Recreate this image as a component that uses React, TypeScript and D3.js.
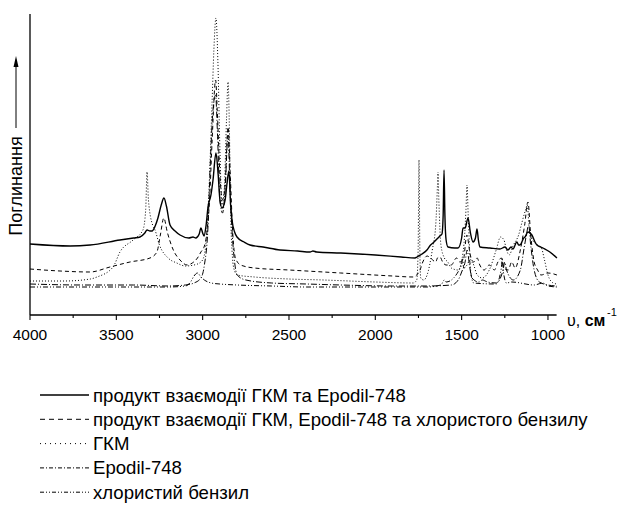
import React from 'react';
import * as d3 from 'd3';

// ---- data (wavenumber, absorbance in arbitrary units) ----
const majorTicks = [4000, 3500, 3000, 2500, 2000, 1500, 1000];
const minorTicks = [3750, 3250, 2750, 2250, 1750, 1250];

const legendLabels = [
  'продукт взаємодії ГКМ та Epodil-748',
  'продукт взаємодії ГКМ, Epodil-748 та хлористого бензилу',
  'ГКМ',
  'Epodil-748',
  'хлористий бензил',
];

const productGkmEpodil: [number, number][] = [
  [4000, 71], [3768, 69], [3652, 70], [3479, 75], [3400, 77], [3363, 78], [3335, 82], [3322, 85], [3305, 84], [3293, 84],
  [3275, 89], [3259, 97], [3240, 110], [3224, 117], [3210, 109], [3189, 90], [3160, 84], [3131, 80], [3080, 77], [3056, 78],
  [3040, 77], [3020, 81], [3010, 87], [3000, 82], [2992, 79], [2980, 90], [2969, 108], [2952, 120], [2940, 135], [2923, 162],
  [2910, 140], [2900, 115], [2888, 107], [2870, 115], [2860, 130], [2848, 144], [2838, 110], [2830, 95], [2815, 83], [2801, 78],
  [2760, 73], [2726, 70], [2650, 68], [2552, 65], [2450, 64], [2378, 63], [2361, 64], [2340, 63], [2200, 62], [2000, 60],
  [1850, 58], [1770, 57], [1759, 58], [1730, 61], [1701, 65], [1680, 70], [1666, 72], [1637, 77], [1626, 79], [1614, 81],
  [1607, 100], [1602, 145], [1597, 100], [1590, 75], [1579, 68], [1540, 67], [1521, 67], [1500, 77], [1492, 87], [1480, 87],
  [1463, 97], [1450, 83], [1434, 73], [1420, 77], [1411, 86], [1403, 75], [1394, 68], [1336, 67], [1278, 66], [1249, 68],
  [1232, 65], [1214, 68], [1203, 66], [1180, 73], [1170, 70], [1162, 70], [1140, 77], [1133, 78], [1116, 83], [1093, 80],
  [1075, 73], [1064, 70], [1029, 67], [989, 63], [948, 57],
];

const productGkmEpodilBenzyl: [number, number][] = [
  [4000, 46], [3826, 44], [3652, 43], [3537, 48], [3421, 53], [3305, 57], [3265, 63], [3245, 80], [3225, 97], [3205, 83],
  [3170, 65], [3131, 55], [3090, 50], [3060, 52], [3030, 57], [3010, 63], [2990, 69], [2975, 83], [2960, 115], [2945, 175],
  [2925, 235], [2915, 203], [2900, 140], [2885, 115], [2870, 130], [2853, 188], [2840, 140], [2825, 80], [2810, 57], [2780, 50],
  [2700, 47], [2500, 45], [2200, 42], [1900, 39], [1780, 38], [1760, 40], [1741, 45], [1725, 53], [1700, 59], [1680, 57],
  [1650, 53], [1640, 57], [1625, 58], [1610, 53], [1590, 50], [1560, 50], [1530, 57], [1510, 53], [1490, 55], [1470, 80],
  [1450, 60], [1430, 53], [1410, 57], [1395, 50], [1370, 45], [1340, 50], [1310, 45], [1290, 53], [1270, 57], [1255, 47],
  [1230, 45], [1210, 53], [1190, 47], [1160, 65], [1135, 90], [1116, 113], [1100, 80], [1080, 53], [1060, 45], [1040, 40],
  [1000, 42], [948, 40],
];

const gkm: [number, number][] = [
  [4000, 34], [3800, 34], [3650, 36], [3612, 38], [3519, 48], [3479, 63], [3403, 75], [3346, 85], [3330, 105], [3322, 143],
  [3314, 115], [3290, 90], [3276, 85], [3250, 70], [3200, 57], [3150, 52], [3100, 49], [3050, 50], [3010, 53], [2990, 60],
  [2975, 85], [2960, 140], [2945, 215], [2935, 265], [2923, 297], [2912, 255], [2900, 165], [2888, 110], [2875, 125], [2862, 195],
  [2853, 233], [2845, 185], [2838, 102], [2830, 65], [2820, 47], [2800, 40], [2700, 38], [2500, 36], [2300, 35], [2000, 33],
  [1780, 32], [1760, 35], [1752, 65], [1747, 155], [1742, 65], [1737, 37], [1720, 35], [1700, 40], [1670, 65], [1650, 90],
  [1640, 130], [1637, 143], [1632, 115], [1620, 70], [1600, 57], [1580, 53], [1560, 47], [1520, 45], [1490, 65], [1475, 105],
  [1469, 130], [1462, 100], [1450, 57], [1430, 50], [1410, 40], [1380, 37], [1340, 45], [1300, 65], [1275, 78], [1255, 75],
  [1240, 65], [1225, 60], [1200, 70], [1170, 80], [1150, 93], [1130, 105], [1120, 110], [1110, 90], [1090, 75], [1060, 70],
  [1040, 68], [1020, 55], [1000, 40], [970, 32], [948, 31],
];

const epodil: [number, number][] = [
  [4000, 31], [3700, 30], [3400, 30], [3200, 29], [3100, 30], [3050, 32], [3010, 37], [2990, 50], [2970, 85], [2955, 155],
  [2940, 205], [2925, 220], [2915, 185], [2900, 115], [2885, 102], [2870, 125], [2853, 180], [2843, 135], [2830, 85], [2815, 53],
  [2800, 40], [2750, 35], [2600, 32], [2400, 31], [2200, 30], [1900, 29], [1700, 29], [1560, 30], [1520, 35], [1500, 43],
  [1480, 53], [1468, 65], [1455, 50], [1440, 37], [1400, 33], [1380, 35], [1350, 33], [1300, 32], [1260, 45], [1250, 53],
  [1240, 45], [1200, 35], [1160, 45], [1140, 65], [1125, 80], [1112, 90], [1100, 70], [1080, 45], [1050, 33], [1000, 30],
  [948, 29],
];

const benzylChloride: [number, number][] = [
  [4000, 28], [3500, 28], [3200, 28], [3100, 29], [3070, 33], [3050, 39], [3030, 42], [3010, 38], [2990, 35], [2950, 32],
  [2900, 31], [2800, 30], [2600, 29], [2400, 28], [2000, 28], [1700, 28], [1620, 30], [1600, 35], [1590, 33], [1500, 50],
  [1495, 57], [1488, 47], [1460, 53], [1455, 55], [1445, 40], [1430, 32], [1300, 31], [1270, 47], [1265, 57], [1258, 43],
  [1240, 32], [1210, 33], [1080, 30], [1030, 32], [1000, 29], [948, 28],
];

const seriesData = [productGkmEpodil, productGkmEpodilBenzyl, gkm, epodil, benzylChloride];
const dashes = ['none', '4,3', '1,2', '6,2,1,2', '5,2,1,2,1,2'];
const legendDashes = ['none', '5,4', '1,4', '4,2,1,2', '4,2,1,2,1,2'];
const widths = [1.4, 1, 1, 1, 1];

const W = 621;
const H = 505;
const FONT = '"Liberation Sans", Arial, sans-serif';

export default function App() {
  const x = d3.scaleLinear().domain([4000, 950]).range([30, 556.6]);
  const y = d3.scaleLinear().domain([0, 301]).range([315, 14]);
  const line = d3
    .line<[number, number]>()
    .x((d) => x(d[0]))
    .y((d) => y(d[1]))
    .curve(d3.curveMonotoneX);

  const axisY = y(0);
  const legendTop = 395;
  const legendStep = 24.3;

  return (
    <svg
      width={W}
      height={H}
      style={{ position: 'absolute', left: 0, top: 0, background: '#fff' }}
      fontFamily={FONT}
    >
      <rect x={0} y={0} width={W} height={H} fill="#fff" />
      {/* series */}
      {seriesData.map((s, i) => (
        <path
          key={i}
          d={line(s) || ''}
          fill="none"
          stroke="#000"
          strokeWidth={widths[i]}
          strokeDasharray={dashes[i]}
        />
      ))}
      {/* axes */}
      <line x1={x(4000)} x2={x(4000)} y1={y(301)} y2={axisY} stroke="#000" strokeWidth={1.3} />
      <line x1={x(4000)} x2={x(950)} y1={axisY} y2={axisY} stroke="#000" strokeWidth={1.3} />
      {majorTicks.map((t) => (
        <g key={t}>
          <line x1={x(t)} x2={x(t)} y1={axisY} y2={axisY + 5} stroke="#000" strokeWidth={1.1} />
          <text x={x(t)} y={axisY + 25} fontSize={15.5} textAnchor="middle" fill="#000">
            {t}
          </text>
        </g>
      ))}
      {minorTicks.map((t) => (
        <line key={t} x1={x(t)} x2={x(t)} y1={axisY} y2={axisY + 3} stroke="#000" strokeWidth={1.1} />
      ))}
      {/* x axis title */}
      <text x={567} y={326} fontSize={16} fill="#000">
        <tspan>υ, </tspan>
        <tspan fontWeight="bold">см</tspan>
      </text>
      <text x={607} y={316} fontSize={11} fill="#000">
        -1
      </text>
      {/* y axis title with arrow */}
      <text
        transform="translate(22,186) rotate(-90)"
        fontSize={18}
        textAnchor="middle"
        fill="#000"
      >
        Поглинання
      </text>
      <line x1={16} x2={16} y1={128} y2={66} stroke="#000" strokeWidth={1} />
      <path d="M16,56 L13.5,67 L18.5,67 Z" fill="#000" />
      {/* legend */}
      {legendLabels.map((lab, i) => {
        const ly = legendTop + i * legendStep;
        return (
          <g key={lab}>
            <line
              x1={40}
              x2={89}
              y1={ly}
              y2={ly}
              stroke="#000"
              strokeWidth={widths[i]}
              strokeDasharray={legendDashes[i]}
            />
            <text x={93} y={ly + 6.5} fontSize={18.6} fill="#000">
              {lab}
            </text>
          </g>
        );
      })}
    </svg>
  );
}
